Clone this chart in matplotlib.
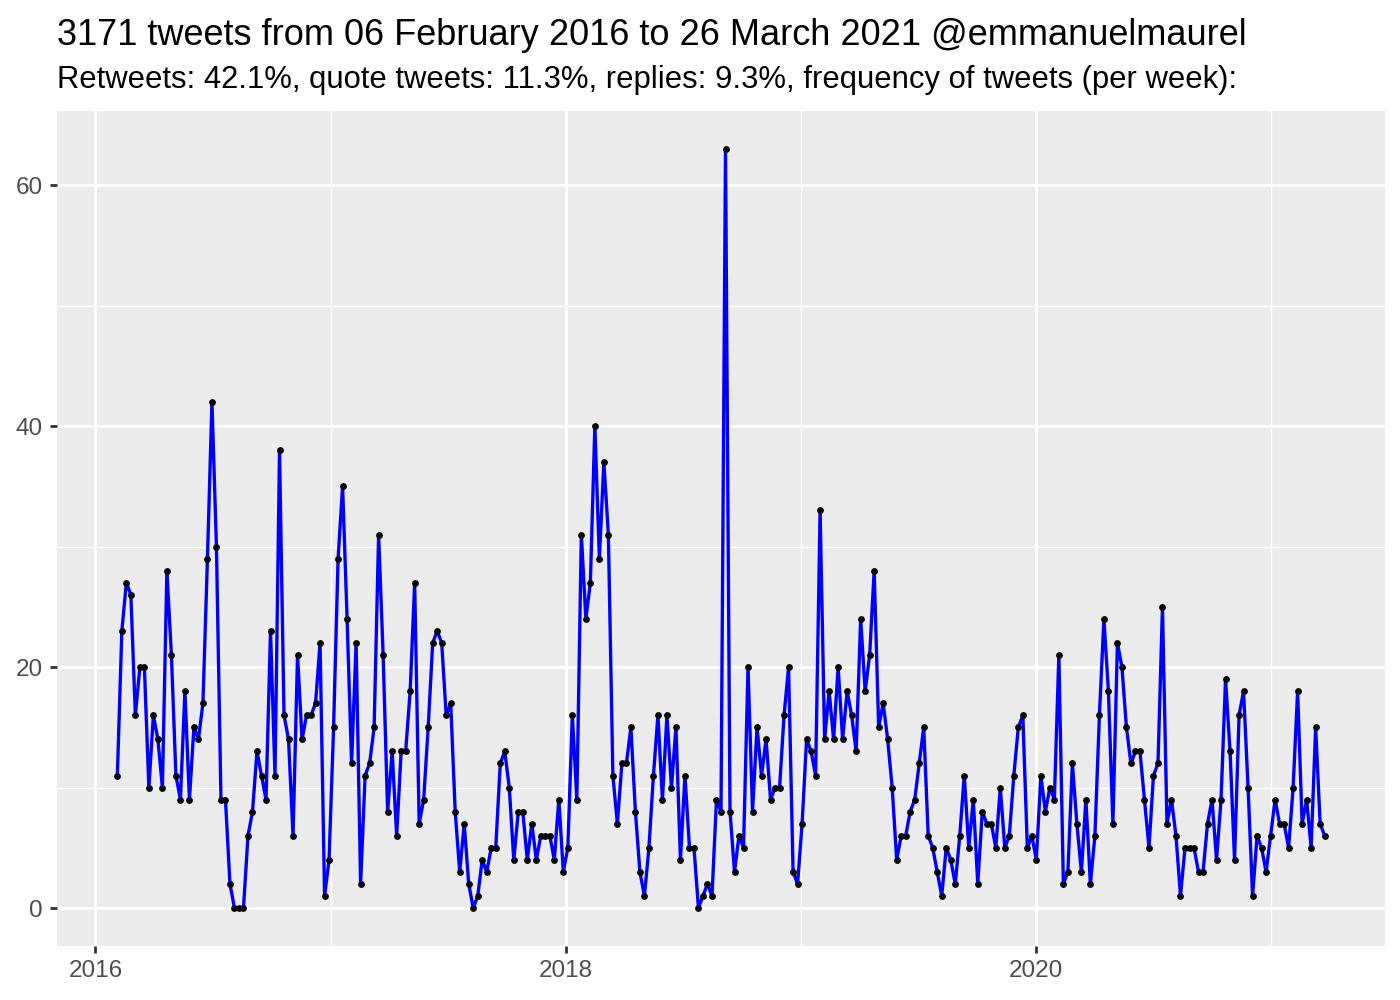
import numpy as np
import pandas as pd
import matplotlib
matplotlib.use("Agg")
import matplotlib.pyplot as plt
import matplotlib.dates as mdates

plt.rcParams['font.family'] = ['Liberation Sans', 'DejaVu Sans']

# weekly tweet counts
tweets = [
    11, 23, 27, 26, 16, 20, 20, 10, 16, 14, 10, 28, 21, 11, 9, 18, 9, 15, 14, 17,
    29, 42, 30, 9, 9, 2, 0, 0, 0, 6, 8, 13, 11, 9, 23, 11, 38, 16, 14, 6,
    21, 14, 16, 16, 17, 22, 1, 4, 15, 29, 35, 24, 12, 22, 2, 11, 12, 15, 31, 21,
    8, 13, 6, 13, 13, 18, 27, 7, 9, 15, 22, 23, 22, 16, 17, 8, 3, 7, 2, 0,
    1, 4, 3, 5, 5, 12, 13, 10, 4, 8, 8, 4, 7, 4, 6, 6, 6, 4, 9, 3,
    5, 16, 9, 31, 24, 27, 40, 29, 37, 31, 11, 7, 12, 12, 15, 8, 3, 1, 5, 11,
    16, 9, 16, 10, 15, 4, 11, 5, 5, 0, 1, 2, 1, 9, 8, 63, 8, 3, 6, 5,
    20, 8, 15, 11, 14, 9, 10, 10, 16, 20, 3, 2, 7, 14, 13, 11, 33, 14, 18, 14,
    20, 14, 18, 16, 13, 24, 18, 21, 28, 15, 17, 14, 10, 4, 6, 6, 8, 9, 12, 15,
    6, 5, 3, 1, 5, 4, 2, 6, 11, 5, 9, 2, 8, 7, 7, 5, 10, 5, 6, 11,
    15, 16, 5, 6, 4, 11, 8, 10, 9, 21, 2, 3, 12, 7, 3, 9, 2, 6, 16, 24,
    18, 7, 22, 20, 15, 12, 13, 13, 9, 5, 11, 12, 25, 7, 9, 6, 1, 5, 5, 5,
    3, 3, 7, 9, 4, 9, 19, 13, 4, 16, 18, 10, 1, 6, 5, 3, 6, 9, 7, 7,
    5, 10, 18, 7, 9, 5, 15, 7, 6,
]
weeks = pd.date_range('2016-02-04', periods=len(tweets), freq='7D')

title = "3171 tweets from 06 February 2016 to 26 March 2021 @emmanuelmaurel"
subtitle = "Retweets: 42.1%, quote tweets: 11.3%, replies: 9.3%, frequency of tweets (per week):"

fig = plt.figure(figsize=(14, 10), dpi=100)
ax = fig.add_axes([0.0407, 0.054, 0.9486, 0.835])
ax.set_facecolor('#EBEBEB')
for s in ax.spines.values():
    s.set_visible(False)

ax.plot(weeks, tweets, color='#0000FF', lw=2.4, zorder=3)
ax.scatter(weeks, tweets, s=15, color='black', zorder=4)

span = weeks[-1] - weeks[0]
ax.set_xlim(weeks[0] - span * 0.05, weeks[-1] + span * 0.05)
ax.set_ylim(-63 * 0.05, 63 * 1.05)

ax.xaxis.set_major_locator(mdates.YearLocator(2))
ax.xaxis.set_minor_locator(mdates.YearLocator(1))
ax.xaxis.set_major_formatter(mdates.DateFormatter('%Y'))
ax.set_yticks([0, 20, 40, 60])
ax.set_yticks([10, 30, 50], minor=True)

ax.grid(which='major', color='white', lw=2.0, zorder=0)
ax.grid(which='minor', color='white', lw=1.0, zorder=0)
ax.set_axisbelow(True)
ax.tick_params(which='major', length=5, width=2, color='#333333',
               labelsize=17.5, labelcolor='#4D4D4D', pad=5)
ax.tick_params(which='minor', length=0)

fig.text(0.0407, 0.955, title, fontsize=26, va='baseline', ha='left')
fig.text(0.0407, 0.912, subtitle, fontsize=22.3, va='baseline', ha='left')

fig.savefig('out.png', dpi=100)
